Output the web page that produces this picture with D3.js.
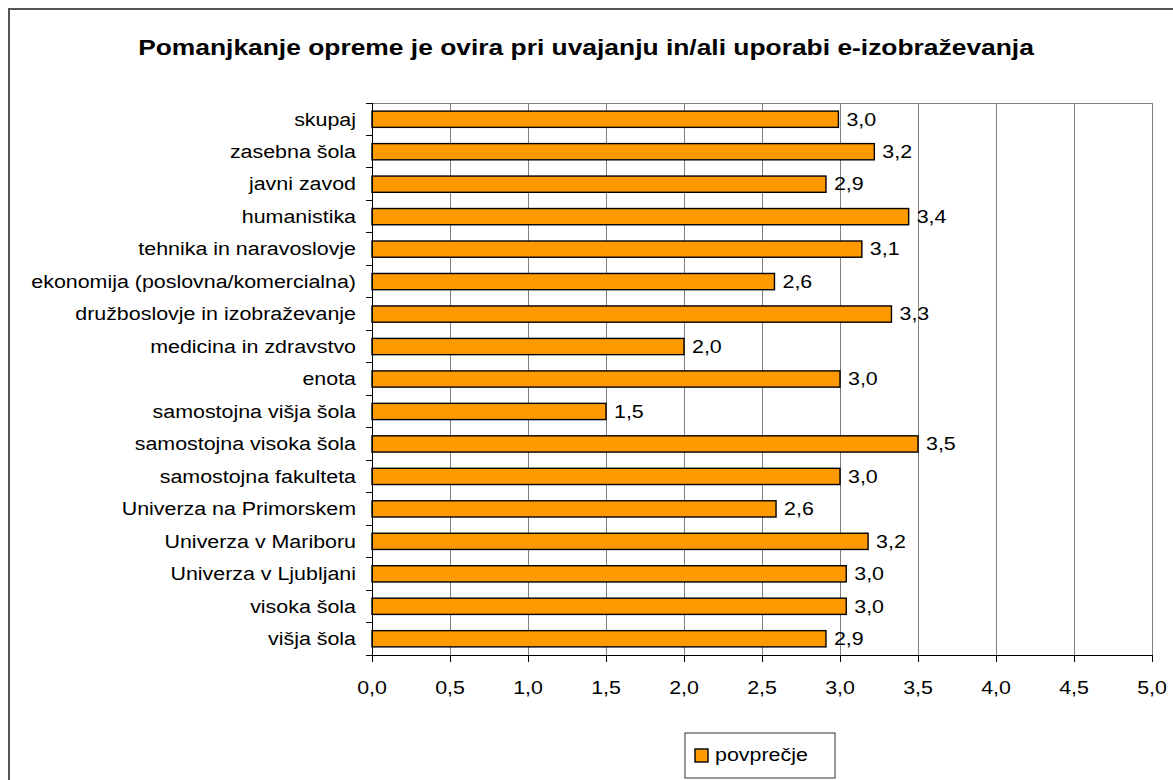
<!DOCTYPE html>
<html>
<head>
<meta charset="utf-8">
<script src="https://cdn.jsdelivr.net/npm/d3@7"></script>
<style>
  html, body { margin: 0; padding: 0; background: #fff; }
  svg { display: block; }
  text { font-family: Arial, "Liberation Sans", sans-serif; fill: #000; }
</style>
</head>
<body>
<svg id="chart" width="1173" height="780"></svg>
<script>
const title = "Pomanjkanje opreme je ovira pri uvajanju in/ali uporabi e-izobraževanja";
const categories = [
  "skupaj",
  "zasebna šola",
  "javni zavod",
  "humanistika",
  "tehnika in naravoslovje",
  "ekonomija (poslovna/komercialna)",
  "družboslovje in izobraževanje",
  "medicina in zdravstvo",
  "enota",
  "samostojna višja šola",
  "samostojna visoka šola",
  "samostojna fakulteta",
  "Univerza na Primorskem",
  "Univerza v Mariboru",
  "Univerza v Ljubljani",
  "visoka šola",
  "višja šola"
];
const values = [2.99, 3.22, 2.91, 3.44, 3.14, 2.58, 3.33, 2.00, 3.00, 1.50, 3.50, 3.00, 2.59, 3.18, 3.04, 3.04, 2.91];
const xTicks = [0, 0.5, 1, 1.5, 2, 2.5, 3, 3.5, 4, 4.5, 5];
const seriesName = "povprečje";

const svg = d3.select("#chart");
const SX = 1.19;
const fmt = v => d3.format(".1f")(v).replace(".", ",");

// outer frame
svg.append("rect").attr("x", 9).attr("y", 9).attr("width", 1250).attr("height", 850)
  .attr("fill", "none").attr("stroke", "#555").attr("stroke-width", 2);

const plot = { left: 372, right: 1152, top: 103, bottom: 655 };
const x = d3.scaleLinear().domain([0, 5]).range([plot.left, plot.right]);
const y = d3.scaleBand().domain(categories).range([plot.top, plot.bottom]).paddingInner(0.5).paddingOuter(0.25);

// title
svg.append("text")
  .attr("transform", `translate(586,47) scale(1.2,1)`)
  .attr("text-anchor", "middle").attr("dy", "0.35em")
  .style("font-size", "22px").style("font-weight", "bold")
  .text(title);

// gridlines
svg.append("g").selectAll("line").data(xTicks.filter(d => d > 0)).join("line")
  .attr("x1", d => x(d)).attr("x2", d => x(d))
  .attr("y1", plot.top).attr("y2", plot.bottom)
  .attr("stroke", "#808080").attr("stroke-width", 1).attr("shape-rendering", "crispEdges");
svg.append("line").attr("x1", plot.left).attr("x2", plot.right).attr("y1", plot.top).attr("y2", plot.top)
  .attr("stroke", "#808080").attr("stroke-width", 1).attr("shape-rendering", "crispEdges");

// bars
svg.append("g").selectAll("rect").data(categories).join("rect")
  .attr("x", x(0))
  .attr("y", d => y(d))
  .attr("width", (d, i) => x(values[i]) - x(0))
  .attr("height", y.bandwidth())
  .attr("fill", "#FF9900").attr("stroke", "#000").attr("stroke-width", 1.4);

// value labels
svg.append("g").selectAll("text").data(categories).join("text")
  .attr("transform", (d, i) => `translate(${x(values[i]) + 8},${y(d) + y.bandwidth() / 2}) scale(${SX},1)`)
  .attr("dy", "0.35em").style("font-size", "18px")
  .text((d, i) => fmt(values[i]));

// y axis
const yAxisG = svg.append("g");
yAxisG.append("line").attr("x1", plot.left).attr("x2", plot.left).attr("y1", plot.top).attr("y2", plot.bottom)
  .attr("stroke", "#000").attr("shape-rendering", "crispEdges");
const boundaries = d3.range(categories.length + 1).map(i => plot.top + i * (plot.bottom - plot.top) / categories.length);
yAxisG.selectAll("line.tick").data(boundaries).join("line").attr("class", "tick")
  .attr("x1", plot.left - 6).attr("x2", plot.left).attr("y1", d => d).attr("y2", d => d)
  .attr("stroke", "#000").attr("shape-rendering", "crispEdges");
yAxisG.selectAll("text").data(categories).join("text")
  .attr("transform", d => `translate(356,${y(d) + y.bandwidth() / 2}) scale(${SX},1)`)
  .attr("text-anchor", "end").attr("dy", "0.35em").style("font-size", "18px")
  .text(d => d);

// x axis
const xAxisG = svg.append("g");
xAxisG.append("line").attr("x1", plot.left).attr("x2", plot.right).attr("y1", plot.bottom).attr("y2", plot.bottom)
  .attr("stroke", "#000").attr("shape-rendering", "crispEdges");
xAxisG.selectAll("line.tick").data(xTicks).join("line").attr("class", "tick")
  .attr("x1", d => x(d)).attr("x2", d => x(d)).attr("y1", plot.bottom).attr("y2", plot.bottom + 7)
  .attr("stroke", "#000").attr("shape-rendering", "crispEdges");
xAxisG.selectAll("text").data(xTicks).join("text")
  .attr("transform", d => `translate(${x(d)},688) scale(${SX},1)`)
  .attr("text-anchor", "middle").attr("dy", "0.35em").style("font-size", "18px")
  .text(d => fmt(d));

// legend
const lg = svg.append("g");
lg.append("rect").attr("x", 685).attr("y", 733).attr("width", 150).attr("height", 45)
  .attr("fill", "#fff").attr("stroke", "#333").attr("stroke-width", 1);
lg.append("rect").attr("x", 695).attr("y", 749).attr("width", 13).attr("height", 13)
  .attr("fill", "#FF9900").attr("stroke", "#000").attr("stroke-width", 1.4);
lg.append("text")
  .attr("transform", `translate(715,755) scale(${SX},1)`)
  .attr("dy", "0.35em").style("font-size", "18px")
  .text(seriesName);
</script>
</body>
</html>
